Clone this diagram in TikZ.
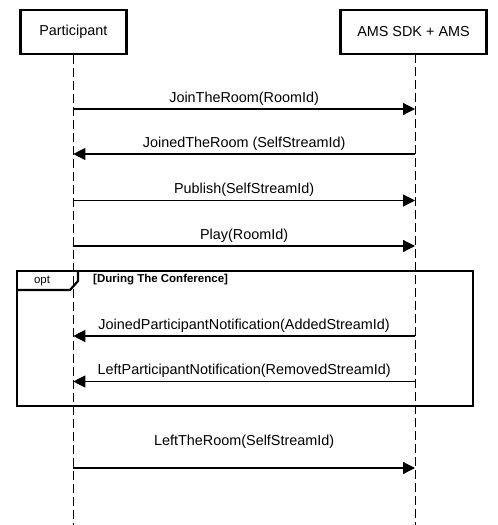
\documentclass[tikz,border=0pt]{standalone}
\usepackage{fontspec}
\setmainfont{Liberation Sans}
\usetikzlibrary{arrows.meta}
\begin{document}
\begin{tikzpicture}[x=1pt,y=-1pt,
  actor/.style={draw,line width=2.4pt,minimum height=44pt,inner sep=0pt,font=\fontsize{14.4}{16}\selectfont},
  lifeline/.style={line width=1pt,dash pattern=on 9pt off 4pt},
  msg/.style={-{Triangle[length=12pt,width=12pt]},line width=1.2pt},
  lbl/.style={font=\fontsize{14.4}{16}\selectfont,inner sep=0pt}]
\useasboundingbox (0,0) rectangle (498,525);
\def\pa{73.3}
\def\pb{415}
\node[actor,minimum width=106pt,name=part] at (\pa,32){Participant};
\node[actor,minimum width=146pt,name=ams] at (413.5,32){AMS SDK + AMS};
\coordinate (partend) at (\pa,525);
\coordinate (amsend) at (\pb,525);
\draw[lifeline] (part.south)--(partend);
\draw[lifeline] (\pb,54.2)--(amsend);
% messages
\foreach \y/\dir/\txt [count=\i] in {109/r/{JoinTheRoom(RoomId)},154/l/{JoinedTheRoom (SelfStreamId)},
  200.5/r/{Publish(SelfStreamId)},246/r/{Play(RoomId)},
  336/l/{JoinedParticipantNotification(AddedStreamId)},381.5/l/{LeftParticipantNotification(RemovedStreamId)}}{
  \coordinate (p\i) at (\pa,\y);
  \coordinate (a\i) at (\pb,\y);
  \if r\dir
    \draw[msg] (p\i)--(a\i)node[midway,above=3pt,lbl]{\txt};
  \else
    \draw[msg] (a\i)--(p\i)node[midway,above=3pt,lbl]{\txt};
  \fi
}
\coordinate (pleft) at (\pa,468);
\coordinate (aleft) at (\pb,468);
\draw[msg] (pleft)--(aleft)node[midway,above=19pt,lbl]{LeftTheRoom(SelfStreamId)};
% opt frame
\draw[line width=2.2pt] (16.7,270.7) rectangle (472.7,405.7);
\draw[line width=2.2pt] (16.7,290)--(70,290)--(78,281)--(78,270.7);
\node[font=\fontsize{11.5}{13}\selectfont,name=opt] at (42,280.5){opt};
\node[font=\bfseries\fontsize{11.5}{13}\selectfont,anchor=west,inner sep=0pt,name=guard] at (93,280){[During The Conference]};
\end{tikzpicture}
\end{document}
